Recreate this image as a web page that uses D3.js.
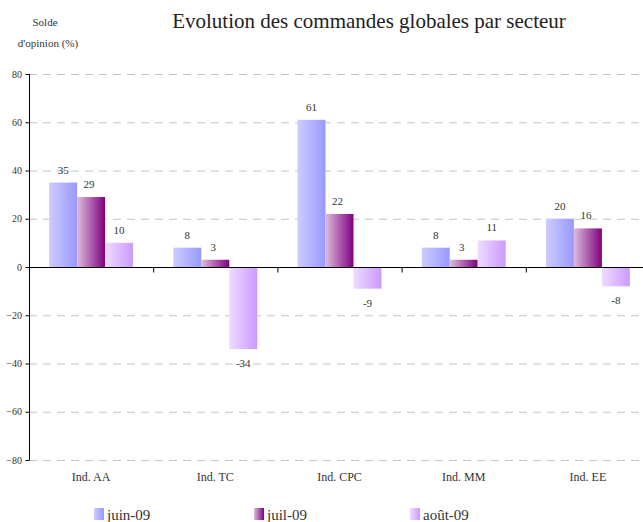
<!DOCTYPE html>
<html>
<head>
<meta charset="utf-8">
<script src="https://cdn.jsdelivr.net/npm/d3@7"></script>
<style>
  body { margin: 0; background: #fff; }
</style>
</head>
<body>
<script>
// chart data
var sectors = ["Ind. AA", "Ind. TC", "Ind. CPC", "Ind. MM", "Ind. EE"];
var months = ["juin-09", "juil-09", "août-09"];
var juin = [35, 8, 61, 8, 20];
var juil = [29, 3, 22, 3, 16];
var aout = [10, -34, -9, 11, -8];
var yTicks = [-80, -60, -40, -20, 0, 20, 40, 60, 80];

var series = [juin, juil, aout];
var gradStops = [["#ccccff", "#9999ff"], ["#dcbcdc", "#800080"], ["#eedcff", "#cc99ff"]];

var serif = "'Liberation Serif', 'DejaVu Serif', serif";
var width = 643, height = 522;
var margin = {top: 74, left: 29};
var plotW = 621, plotH = 386;

var svg = d3.select("body").append("svg")
    .attr("width", width)
    .attr("height", height)
    .style("font-family", serif);

// gradients for bars
var defs = svg.append("defs");
gradStops.forEach(function(s, i) {
  var g = defs.append("linearGradient")
      .attr("id", "grad" + i)
      .attr("x1", "0%").attr("x2", "100%")
      .attr("y1", "0%").attr("y2", "0%");
  g.append("stop").attr("offset", "0%").attr("stop-color", s[0]);
  g.append("stop").attr("offset", "100%").attr("stop-color", s[1]);
});

var x = d3.scaleBand()
    .domain(sectors)
    .range([margin.left, margin.left + plotW])
    .paddingInner(0)
    .paddingOuter(0);

var xSub = d3.scaleBand()
    .domain(d3.range(3))
    .range([0, x.bandwidth()])
    .paddingOuter(0.72);

var y = d3.scaleLinear()
    .domain([-80, 80])
    .range([margin.top + plotH, margin.top]);

function label(sel, size) {
  return sel.style("font-family", serif)
      .style("font-size", size + "px")
      .style("fill", "#333");
}

// gridlines
svg.append("g")
  .selectAll("line")
  .data(yTicks.filter(function(d) { return d != 0; }))
  .enter().append("line")
    .attr("x1", margin.left)
    .attr("x2", width)
    .attr("y1", function(d) { return y(d) + 0.5; })
    .attr("y2", function(d) { return y(d) + 0.5; })
    .style("stroke", "#c4c4c4")
    .style("stroke-dasharray", "8,6");

// bars
series.forEach(function(vals, si) {
  svg.append("g")
    .selectAll("rect")
    .data(vals)
    .enter().append("rect")
      .attr("x", function(d, i) { return x(sectors[i]) + xSub(si); })
      .attr("width", xSub.bandwidth())
      .attr("y", function(d) { return y(Math.max(0, d)); })
      .attr("height", function(d) { return Math.abs(y(d) - y(0)); })
      .attr("fill", "url(#grad" + si + ")");

  svg.append("g")
    .selectAll("text")
    .data(vals)
    .enter().append("text")
      .attr("x", function(d, i) { return x(sectors[i]) + xSub(si) + xSub.bandwidth() / 2 - (si == 1 ? 2 : 0); })
      .attr("y", function(d) { return d >= 0 ? y(d) - 9 : y(d) + 18; })
      .attr("text-anchor", "middle")
      .call(label, 11)
      .text(function(d) { return d; });
});

// y axis
var yAxis = d3.axisLeft(y).tickValues(yTicks).tickSize(4).tickPadding(3);
var gy = svg.append("g")
    .attr("transform", "translate(" + margin.left + ",0)")
    .call(yAxis);
gy.select(".domain").attr("d", "M0.5," + margin.top + "V" + (margin.top + plotH)).style("stroke", "#000");
gy.selectAll(".tick line").style("stroke", "#000").attr("x1", 0.5).attr("x2", -3.5);
gy.selectAll(".tick text").call(label, 10);

// x axis at zero
var xAxis = d3.axisBottom(x).tickSize(0).tickFormat("");
var gx = svg.append("g")
    .attr("transform", "translate(0," + (y(0) + 0.5) + ")")
    .call(xAxis);
gx.select(".domain").attr("d", "M" + margin.left + ",0H" + width).style("stroke", "#000");
gx.selectAll(".tick").remove();
gx.selectAll(".sep")
    .data(sectors.slice(1))
    .enter().append("line")
    .attr("x1", function(d) { return x(d) + 0.5; })
    .attr("x2", function(d) { return x(d) + 0.5; })
    .attr("y1", 0).attr("y2", 5)
    .style("stroke", "#000");

// category labels
svg.append("g")
  .selectAll("text")
  .data(sectors)
  .enter().append("text")
    .attr("x", function(d) { return x(d) + x.bandwidth() / 2; })
    .attr("y", 481)
    .attr("text-anchor", "middle")
    .call(label, 12)
    .text(function(d) { return d; });

// titles
svg.append("text")
    .attr("x", 369)
    .attr("y", 28)
    .attr("text-anchor", "middle")
    .call(label, 21)
    .style("fill", "#222")
    .text("Evolution des commandes globales par secteur");

svg.append("text")
    .attr("x", 45).attr("y", 26)
    .attr("text-anchor", "middle")
    .call(label, 11)
    .text("Solde");
svg.append("text")
    .attr("x", 48).attr("y", 47)
    .attr("text-anchor", "middle")
    .call(label, 11)
    .text("d'opinion (%)");

// legend
var legX = [94, 254, 410];
var leg = svg.append("g")
  .selectAll("g")
  .data(months)
  .enter().append("g")
    .attr("transform", function(d, i) { return "translate(" + legX[i] + ",508)"; });
leg.append("rect")
    .attr("width", 10).attr("height", 12)
    .attr("fill", function(d, i) { return "url(#grad" + i + ")"; });
leg.append("text")
    .attr("x", 13).attr("y", 12)
    .call(label, 15)
    .text(function(d) { return d; });
</script>
</body>
</html>
